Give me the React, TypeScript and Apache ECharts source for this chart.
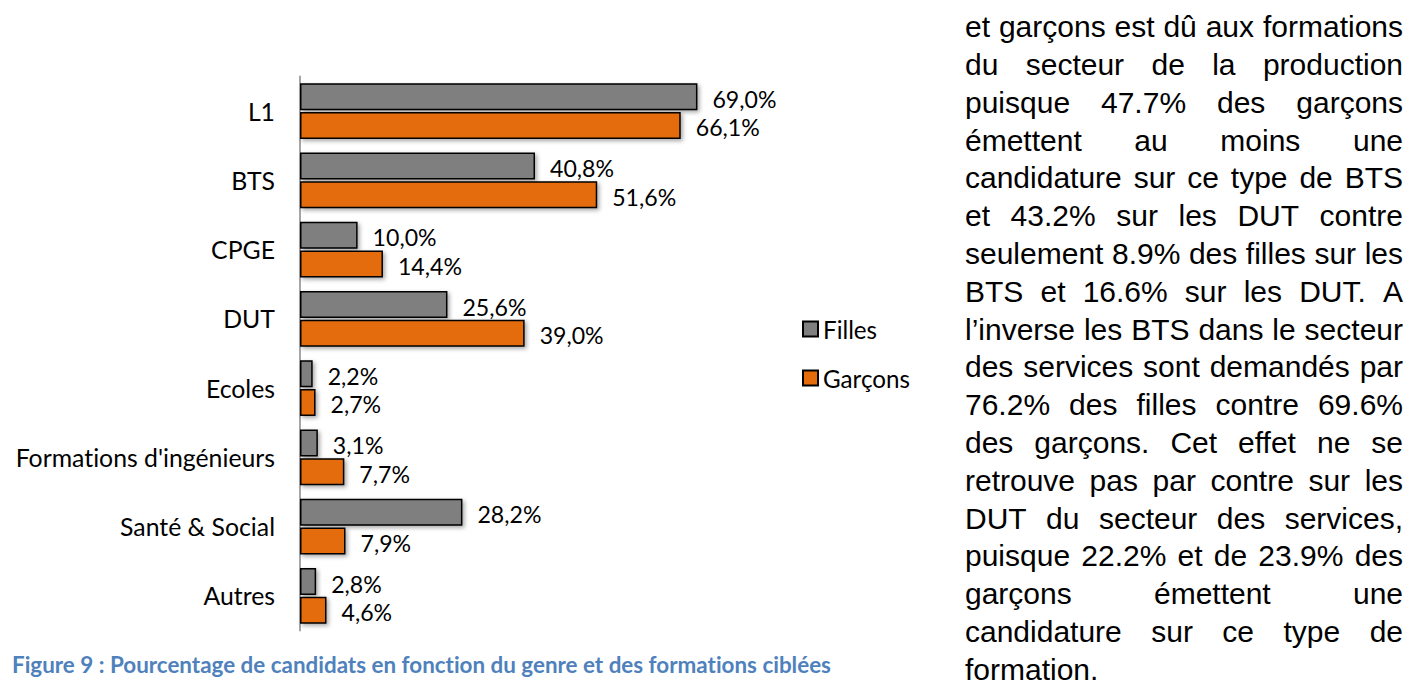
import React, { useEffect, useRef } from 'react';
import * as echarts from 'echarts';

const categories = ['L1', 'BTS', 'CPGE', 'DUT', 'Ecoles', "Formations d'ingénieurs", 'Santé & Social', 'Autres'];
const filles = [69.0, 40.8, 10.0, 25.6, 2.2, 3.1, 28.2, 2.8];
const garcons = [66.1, 51.6, 14.4, 39.0, 2.7, 7.7, 7.9, 4.6];
const seriesNames = ['Filles', 'Garçons'];
const caption = 'Figure 9 : Pourcentage de candidats en fonction du genre et des formations ciblées';
const paragraphLines = [
  'et garçons est dû aux formations',
  'du secteur de la production',
  'puisque 47.7% des garçons',
  'émettent au moins une',
  'candidature sur ce type de BTS',
  'et 43.2% sur les DUT contre',
  'seulement 8.9% des filles sur les',
  'BTS et 16.6% sur les DUT. A',
  'l’inverse les BTS dans le secteur',
  'des services sont demandés par',
  '76.2% des filles contre 69.6%',
  'des garçons. Cet effet ne se',
  'retrouve pas par contre sur les',
  'DUT du secteur des services,',
  'puisque 22.2% et de 23.9% des',
  'garçons émettent une',
  'candidature sur ce type de',
  'formation.',
];

const CHART_FONT = 'Lato, "Open Sans", sans-serif';
const TEXT_FONT = '"Liberation Sans", Arial, sans-serif';

const fmt = (v: number) => v.toFixed(1).replace('.', ',') + '%';

export default function App() {
  const ref = useRef<HTMLDivElement>(null);
  useEffect(() => {
    const el = ref.current!;
    const chart = echarts.init(el, null, { renderer: 'svg' });
    const ctx = document.createElement('canvas').getContext('2d')!;
    const measure = (text: string, size: number, family: string, weight = 'normal') => {
      ctx.font = `${weight} ${size}px ${family}`;
      return ctx.measureText(text).width;
    };
    const fit = (text: string, target: number, family: string, weight = 'normal') =>
      (100 * target) / measure(text, 100, family, weight);

    const axisSize = fit("Formations d'ingénieurs", 260, CHART_FONT);
    const labelSize = fit('69,0%', 64, CHART_FONT);
    const legendSize = fit('Garçons', 87, CHART_FONT);
    const captionSize = fit(caption, 820, CHART_FONT, 'bold');
    const paraSize = 30;

    const elements: any[] = [];
    const left = 965;
    const right = 1403;
    const base0 = 37;
    const lh = 37.8;
    paragraphLines.forEach((line, i) => {
      const words = line.split(' ');
      const widths = words.map((w) => measure(w, paraSize, TEXT_FONT));
      const total = widths.reduce((a, b) => a + b, 0);
      const last = i === paragraphLines.length - 1;
      const gap = last || words.length < 2 ? measure(' ', paraSize, TEXT_FONT) : (right - left - total) / (words.length - 1);
      let x = left;
      words.forEach((w, j) => {
        elements.push({
          type: 'text',
          x,
          y: base0 + i * lh - 0.3465 * paraSize,
          style: {
            text: w,
            fontSize: paraSize,
            fontFamily: TEXT_FONT,
            fill: '#000',
            align: 'left',
            verticalAlign: 'middle',
          },
        });
        x += widths[j] + gap;
      });
    });
    elements.push({
      type: 'text',
      x: 12,
      y: 664,
      style: {
        text: caption,
        fontSize: captionSize,
        fontFamily: CHART_FONT,
        fontWeight: 'bold',
        fill: '#4F81BD',
        align: 'left',
        verticalAlign: 'middle',
      },
    });

    const shadow = { shadowBlur: 4, shadowOffsetX: 2, shadowOffsetY: 2, shadowColor: 'rgba(0,0,0,0.35)' };
    const label = {
      show: true,
      position: 'right',
      distance: 15,
      formatter: (p: any) => fmt(p.value),
      fontFamily: CHART_FONT,
      fontSize: labelSize,
      color: '#000',
      offset: [0, 2],
    };

    chart.setOption({
      animation: false,
      backgroundColor: '#fff',
      grid: { left: 300, top: 76.5, width: 576, height: 554 },
      xAxis: { type: 'value', min: 0, max: 100, show: false },
      yAxis: {
        type: 'category',
        data: categories,
        inverse: true,
        axisLine: { show: true, lineStyle: { color: '#A6A6A6', width: 2 } },
        axisTick: { show: false },
        splitLine: { show: false },
        axisLabel: { fontFamily: CHART_FONT, fontSize: axisSize, color: '#000', margin: 25 },
      },
      legend: {
        orient: 'vertical',
        left: 802,
        top: 314,
        padding: 0,
        itemWidth: 15,
        itemHeight: 15,
        itemGap: 19,
        icon: 'rect',
        data: seriesNames,
        textStyle: { fontFamily: CHART_FONT, fontSize: legendSize, color: '#000', lineHeight: 30 },
        itemStyle: { shadowBlur: 0, shadowOffsetX: 0, shadowOffsetY: 0, shadowColor: 'transparent' },
      },
      series: [
        {
          name: seriesNames[0],
          type: 'bar',
          data: filles,
          barWidth: 27,
          barGap: '6%',
          itemStyle: { color: '#7F7F7F', borderColor: '#000', borderWidth: 1.5, ...shadow },
          label,
        },
        {
          name: seriesNames[1],
          type: 'bar',
          data: garcons,
          barWidth: 27,
          barGap: '6%',
          itemStyle: { color: '#E46C0A', borderColor: '#000', borderWidth: 1.5, ...shadow },
          label,
        },
      ],
      graphic: elements,
    });
    return () => chart.dispose();
  }, []);
  return (
    <div
      ref={ref}
      style={{ position: 'fixed', left: 0, top: 0, width: 1408, height: 698, fontVariantLigatures: 'none' }}
    />
  );
}
